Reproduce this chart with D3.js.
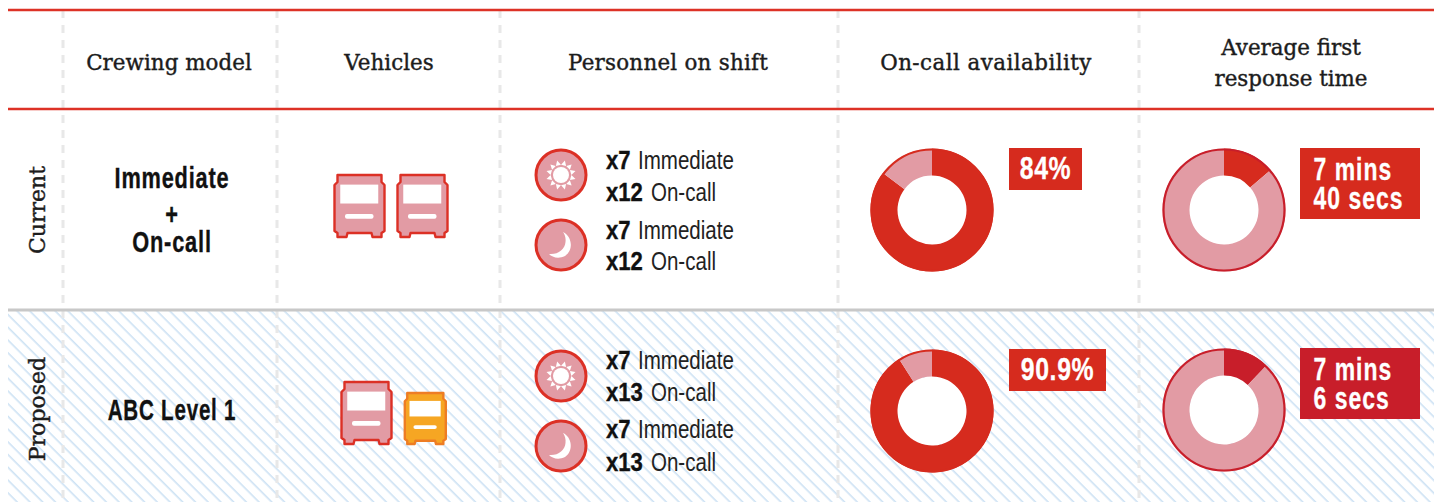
<!DOCTYPE html>
<html><head><meta charset="utf-8">
<script src="https://cdn.jsdelivr.net/npm/d3@7"></script>
<style>
html,body{margin:0;padding:0;background:#fff;overflow:hidden}
svg{display:block}
.h{font-family:"DejaVu Serif","Liberation Serif",serif;fill:#1c1c1c;stroke:#1c1c1c;stroke-width:.4}
.n{font-family:"Liberation Sans",Arial,sans-serif;fill:#111}
</style></head><body>
<svg id="c" width="1434" height="502"></svg>
<script>
// ---- data ----
const columns = ["Crewing model","Vehicles","Personnel on shift","On-call availability",["Average first","response time"]];
const rows = ["Current","Proposed"];
const crewing = [["Immediate","+","On-call"],["ABC Level 1"]];
const immediateCounts = [[7,7],[7,7]];
const onCallCounts = [[12,12],[13,13]];
const availabilityShare = [85.3,91];      // drawn share of the red ring
const responseShare = [13.7,12.1];        // drawn share of the first-response wedge
const availabilityLabels = [["84%"],["90.9%"]];
const responseLabels = [["7 mins","40 secs"],["7 mins","6 secs"]];
const vehicles = [[{size:50,kind:"std"},{size:50,kind:"std"}],[{size:50,kind:"std"},{size:41,kind:"small"}]];

const RED="#d62b1e",DEEP="#c81e2a",PALE="#e29ba4",LINE="#dd3226";
const svg=d3.select("#c");
const defs=svg.append("defs");
const pat=defs.append("pattern").attr("id","hatch").attr("patternUnits","userSpaceOnUse")
  .attr("width",9).attr("height",9).attr("patternTransform","rotate(45)");
pat.append("rect").attr("width",9).attr("height",1.6).attr("fill","#cde2f4");

// narrow-type helper: a horizontally condensed real text
function narrow(x,y,txt,o){
  const s=o.sx||.8, fill=o.fill||"#111";
  const t=svg.append("text").attr("class","n")
    .attr("transform",`translate(${x},${y}) scale(${s},1)`)
    .attr("text-anchor",o.anchor||"start").attr("font-size",o.size)
    .attr("font-weight",o.bold?700:400).attr("letter-spacing",o.ls||0)
    .style("fill",fill).text(txt);
  if(o.heavy) t.style("stroke",fill).style("stroke-width",o.heavy);
  return t;
}

const rowY=d3.scaleOrdinal().domain(rows).range([210,410]);
const W=1434;
svg.append("rect").attr("x",8).attr("y",311).attr("width",W-8).attr("height",191).attr("fill","url(#hatch)");
const rules=[63,277,500,838,1139];
svg.selectAll("line.v").data(rules).join("line").attr("class","v")
 .attr("x1",d=>d).attr("x2",d=>d).attr("y1",10).attr("y2",502)
 .attr("stroke","#e8e8e8").attr("stroke-width",3).attr("stroke-dasharray","8 7");
[[10,LINE,2.5],[109,LINE,2.5],[310,"#c8c8c8",3]].forEach(([y,c,w])=>
 svg.append("line").attr("x1",8).attr("x2",W).attr("y1",y).attr("y2",y).attr("stroke",c).attr("stroke-width",w));

const headX=[169,389,668,986,1291];
const headLs=[0.05,0.05,0.25,0.45,0];
columns.forEach((c,i)=>{
  const lines=Array.isArray(c)?c:[c];
  lines.forEach((t,j)=>{
    svg.append("text").attr("class","h").attr("x",headX[i])
      .attr("y",lines.length>1?55+j*31:70).attr("text-anchor","middle")
      .attr("font-size",21.4).attr("letter-spacing",headLs[i]).text(t);
  });
});
rows.forEach((r,i)=>{
  const y=rowY(r)+(i?-1:0);
  svg.append("text").attr("class","h").attr("text-anchor","middle")
   .attr("transform",`translate(45,${y}) rotate(-90)`).attr("font-size",22).text(r);
});
const crewBase=[[188,224,252],[420]];
const crewSx=[.75,.71];
crewing.forEach((lines,i)=>lines.forEach((t,j)=>{
  narrow(172,crewBase[i][j],t,{anchor:"middle",size:29,bold:true,sx:crewSx[i],ls:1.1,heavy:.35});
}));

const busX=[[334.5,397.5],[341.5,404.8]];
const busBottom=[237,444];
function busPath(w,h){
  const x=d3.scaleLinear().domain([0,50]).range([0,w]), y=d3.scaleLinear().domain([0,62]).range([0,h]);
  const pts=[[3,0],[47,0],[47,7],[50,10],[50,56],[47,58],[47,62],[38,62],[37,58],[13,58],[12,62],[3,62],[3,58],[0,56],[0,10],[3,7]];
  return d3.line().x(d=>x(d[0])).y(d=>y(d[1])).curve(d3.curveLinearClosed)(pts);
}
vehicles.forEach((list,i)=>list.forEach((v,j)=>{
  const w=v.size,h=v.kind==="std"?62:51;
  const g=svg.append("g").attr("transform",`translate(${busX[i][j]},${busBottom[i]-h})`);
  g.append("path").attr("d",busPath(w,h)).attr("fill",v.kind==="std"?PALE:"#f6a623")
    .attr("stroke",v.kind==="std"?"#dc3025":"#ee7d24").attr("stroke-width",2.4).attr("stroke-linejoin","round");
  g.append("rect").attr("x",w*.115).attr("y",h*.155).attr("width",w*.76).attr("height",h*.305).attr("fill","#fff");
  g.append("rect").attr("x",w*.21).attr("y",h*.63).attr("width",w*.57).attr("height",h*.075).attr("rx",2).attr("fill","#fff");
}));

const cx=561;
const circY=[[175,245],[376,446]];
const textBase=[[169,201,239,270],[369,401,438,471]];
function sun(g){
  g.append("circle").attr("r",8).attr("fill","#fff");
  d3.range(12).forEach(k=>{
    g.append("path").attr("d","M-2.6,-10 L2.6,-10 L0,-15 Z").attr("fill","#fff").attr("transform",`rotate(${k*30+15})`);
  });
}
function moon(g){
  g.append("path").attr("d","M2,-13 C11,-9 13,5 4,11 C-3,14.5 -9,12 -12,9 C-3,10 4,4 4.5,-3 C5,-7 4,-10 2,-13 Z").attr("fill","#fff");
}
rows.forEach((r,i)=>{
  [sun,moon].forEach((fn,k)=>{
    const g=svg.append("g").attr("transform",`translate(${cx},${circY[i][k]})`);
    g.append("circle").attr("r",25).attr("fill",PALE).attr("stroke","#dc3025").attr("stroke-width",3);
    fn(g);
    [[immediateCounts[i][k],"Immediate"],[onCallCounts[i][k],"On-call"]].forEach(([n,lab],m)=>{
      const y=textBase[i][k*2+m];
      narrow(606,y,"x"+n,{size:26,bold:true,sx:.85,heavy:.35});
      narrow(n>9?651:638,y,lab,{size:26,sx:.79,fill:"#222"});
    });
  });
});

const pie=d3.pie().sort(null).value(d=>d);
const arc=d3.arc().innerRadius(34.5).outerRadius(61.5);
function donut(x,y,first,second,v,ring){
  const g=svg.append("g").attr("transform",`translate(${x},${y})`);
  g.append("circle").attr("r",34.5).attr("fill","#fff");
  const a=pie([v,100-v]);
  g.selectAll("path").data(a).join("path").attr("d",arc).attr("fill",(d,i)=>i?second:first);
  if(ring) g.append("circle").attr("r",60.5).attr("fill","none").attr("stroke",ring).attr("stroke-width",2.2);
}
const donutY=[210,411];
const availColors=[RED,RED];
const respColors=[RED,DEEP];
availabilityShare.forEach((v,i)=>donut(932,donutY[i],availColors[i],PALE,v,availColors[i]));
responseShare.forEach((v,i)=>donut(1224,donutY[i]-(i?1:0),respColors[i],PALE,v,DEEP));

const availBox=[[1009,148,73,42],[1009,349,97,42]];
availabilityLabels.forEach((l,i)=>{
  const [x,y,w,h]=availBox[i];
  svg.append("rect").attr("x",x).attr("y",y).attr("width",w).attr("height",h).attr("fill",RED);
  narrow(x+w/2,y+30.5,l[0],{anchor:"middle",size:31,bold:true,sx:.8,ls:.8,fill:"#fff",heavy:.3});
});
const respBoxY=[148,348];
responseLabels.forEach((l,i)=>{
  svg.append("rect").attr("x",1300).attr("y",respBoxY[i]).attr("width",120).attr("height",71).attr("fill",respColors[i]);
  l.forEach((t,j)=>narrow(1313.5,respBoxY[i]+32+j*29,t,{size:31,bold:true,sx:.74,ls:1.4,fill:"#fff",heavy:.3}));
});
</script></body></html>
